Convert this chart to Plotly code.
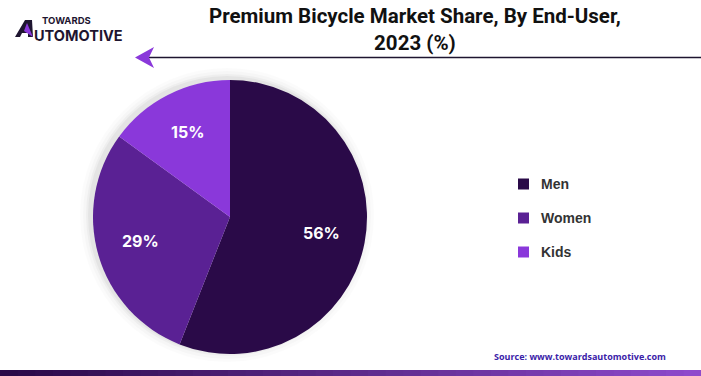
import math
import plotly.graph_objects as go

categories = ["Men", "Women", "Kids"]
shares = [56, 29, 15]
colors = ["#2A0A48", "#5A2194", "#8A38DA"]

title_text = "Premium Bicycle Market Share, By End-User,<br>2023 (%)"
source_text = "Source: www.towardsautomotive.com"

W, H = 701, 376

def px(x):
    return x / W

def py(y):
    return 1 - y / H

fig = go.Figure()

# pie geometry (pixels)
cx, cy, r = 230, 217, 137

fig.add_trace(go.Pie(
    labels=categories,
    values=shares,
    marker=dict(colors=colors, line=dict(width=0)),
    sort=False,
    direction="clockwise",
    rotation=0,
    textinfo="none",
    domain=dict(x=[px(cx - r), px(cx + r)], y=[py(cy + r), py(cy - r)]),
    showlegend=False,
    hoverinfo="label+percent",
))

shapes = []
annotations = []

# slice labels placed at ~0.7 radius along each slice's mid angle
total = sum(shares)
cum = 0
for v in shares:
    mid = (cum + v / 2) / total * 2 * math.pi
    cum += v
    rr = 0.68 * r
    lx = cx + rr * math.sin(mid)
    ly = cy - rr * math.cos(mid) - 1.5
    annotations.append(dict(text=f"{v}%", x=px(lx), y=py(ly), xref="paper", yref="paper",
                            xanchor="center", yanchor="middle", showarrow=False,
                            font=dict(family="Inter", size=16, color="white", weight="bold")))

# soft shadow behind pie
for d, a in [(10, 0.015), (7, 0.02), (4, 0.03), (2, 0.04)]:
    shapes.append(dict(type="circle", xref="paper", yref="paper",
                       x0=px(cx - r - d - 3), x1=px(cx + r + d - 3),
                       y0=py(cy + r + d - 2), y1=py(cy - r - d - 2),
                       fillcolor=f"rgba(0,0,0,{a})", line=dict(width=0), layer="below"))

# header line with arrow
shapes.append(dict(type="line", xref="paper", yref="paper",
                   x0=px(148), x1=1, y0=py(57.5), y1=py(57.5),
                   line=dict(color="#1E1530", width=1.5)))
shapes.append(dict(type="path", xref="paper", yref="paper",
                   path=f"M {px(135)} {py(57.5)} L {px(154)} {py(47)} L {px(149)} {py(57.5)} L {px(154)} {py(68)} Z",
                   fillcolor="#8A38DA", line=dict(width=0)))

# logo mark
shapes.append(dict(type="path", xref="paper", yref="paper",
                   path=f"M {px(15)} {py(37)} L {px(25)} {py(20)} L {px(32)} {py(20)} L {px(33)} {py(37)} L {px(28)} {py(37)} L {px(28)} {py(33)} L {px(22)} {py(33)} L {px(20)} {py(37)} Z",
                   fillcolor="#1E1530", line=dict(width=0)))
shapes.append(dict(type="path", xref="paper", yref="paper",
                   path=f"M {px(27)} {py(23)} L {px(33)} {py(37)} L {px(24)} {py(31)} Z",
                   fillcolor="#8A38DA", line=dict(width=0)))

# bottom gradient bar
n = 40
c0 = (0x2A, 0x0A, 0x48)
c1 = (0x8E, 0x4A, 0xCC)
for i in range(n):
    t = i / (n - 1)
    c = tuple(int(c0[k] + (c1[k] - c0[k]) * t) for k in range(3))
    shapes.append(dict(type="rect", xref="paper", yref="paper",
                       x0=i / n, x1=(i + 1) / n + 0.002, y0=0, y1=py(370),
                       fillcolor=f"rgb{c}", line=dict(width=0)))

# manual legend
leg_y = [184, 218, 252]
for cat, col, yy in zip(categories, colors, leg_y):
    shapes.append(dict(type="rect", xref="paper", yref="paper",
                       x0=px(518), x1=px(529), y0=py(yy + 5.5), y1=py(yy - 5.5),
                       fillcolor=col, line=dict(width=0)))
    annotations.append(dict(text=cat, x=px(539), y=py(yy), xref="paper", yref="paper",
                            xanchor="left", yanchor="middle", showarrow=False,
                            font=dict(family="Liberation Sans", size=14, color="#333333", weight="bold")))

# title
annotations.append(dict(text=title_text, x=px(415), y=py(30), xref="paper", yref="paper",
                        xanchor="center", yanchor="middle", showarrow=False, align="center",
                        font=dict(family="Roboto", size=20.5, color="#111111", weight="bold")))
# logo text
annotations.append(dict(text="TOWARDS", x=px(40), y=py(21), xref="paper", yref="paper",
                        xanchor="left", yanchor="middle", showarrow=False,
                        font=dict(family="Inter", size=9.5, color="#1E1530", weight="bold")))
annotations.append(dict(text="UTOMOTIVE", x=px(32), y=py(36), xref="paper", yref="paper",
                        xanchor="left", yanchor="middle", showarrow=False,
                        font=dict(family="Inter", size=14.5, color="#1E1530", weight="bold")))
# source
annotations.append(dict(text=source_text, x=px(668), y=py(356), xref="paper", yref="paper",
                        xanchor="right", yanchor="middle", showarrow=False,
                        font=dict(family="Open Sans", size=9, color="#3A22A8", weight="bold")))

fig.update_layout(
    width=W, height=H,
    margin=dict(l=0, r=0, t=0, b=0),
    paper_bgcolor="white",
    plot_bgcolor="white",
    shapes=shapes,
    annotations=annotations,
    showlegend=False,
)

fig.write_html("out.html")
